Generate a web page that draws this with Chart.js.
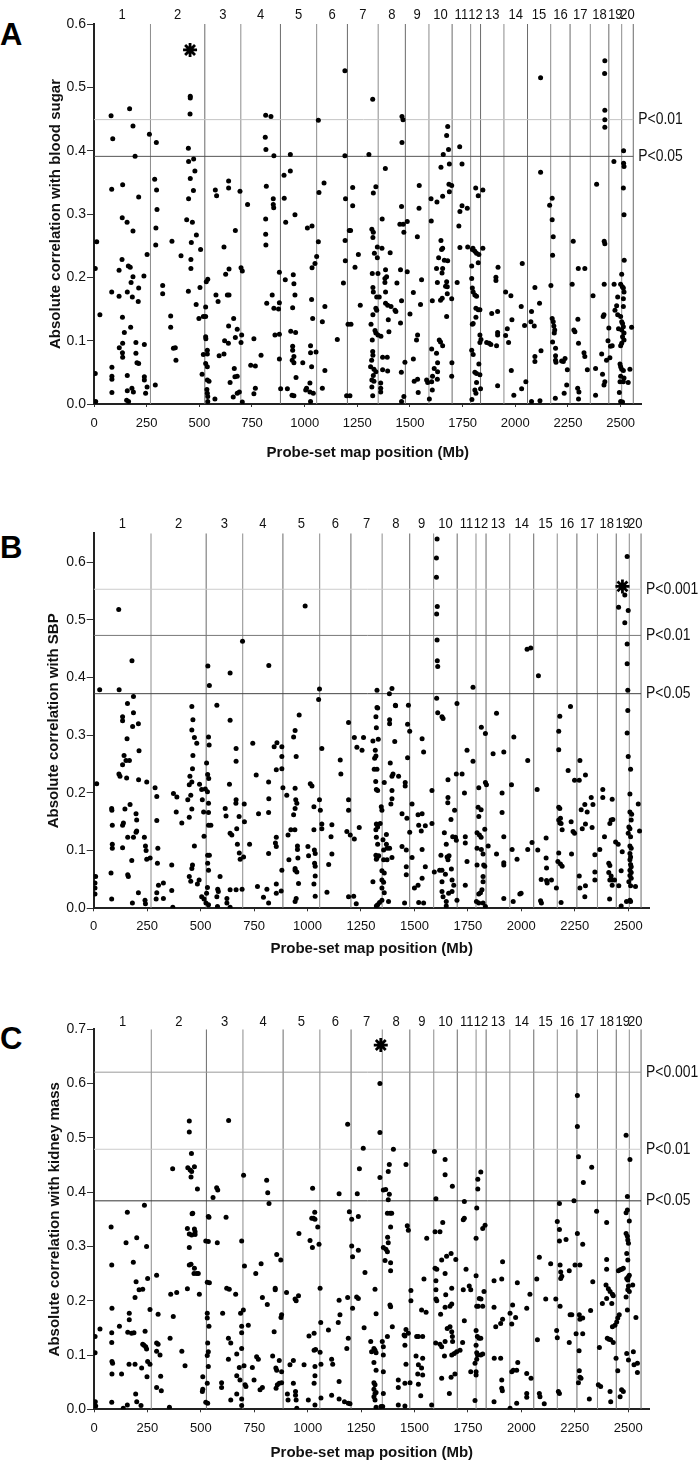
<!DOCTYPE html>
<html>
<head>
<meta charset="utf-8">
<script src="https://cdn.jsdelivr.net/npm/chart.js@4.4.1/dist/chart.umd.min.js"></script>
<style>
  html,body{margin:0;padding:0;background:#fff;}
  body{width:700px;height:1465px;position:relative;overflow:hidden;font-family:'Liberation Sans',Arial,sans-serif;}
  canvas{position:absolute;left:0;}
  .panel{position:absolute;left:0;font-weight:bold;font-size:31px;line-height:31px;color:#000;}
</style>
</head>
<body>
<div class="panel" style="top:19px;">A</div>
<div class="panel" style="top:532px;">B</div>
<div class="panel" style="top:1023px;">C</div>
<canvas id="cA" width="700" height="472" style="top:0px"></canvas>
<canvas id="cB" width="700" height="490" style="top:480px"></canvas>
<canvas id="cC" width="700" height="495" style="top:970px"></canvas>
<script>
// ---------------- data ----------------
const chromNames = ['1','2','3','4','5','6','7','8','9','10','11','12','13','14','15','16','17','18','19','20'];
const chromEndsMb = [268,526,697,885,1057,1203,1349,1478,1590,1700,1788,1835,1946,2058,2168,2260,2356,2444,2505,2560];
const xTickValues = [0,250,500,750,1000,1250,1500,1750,2000,2250,2500];
const yTicksAB = [0,0.1,0.2,0.3,0.4,0.5,0.6];
const yTicksC = [0,0.1,0.2,0.3,0.4,0.5,0.6,0.7];

const thresholdsA = [0.449, 0.391];
const thresholdLabelsA = ['P<0.01','P<0.05'];
const thresholdsB = [0.553, 0.473, 0.372];
const thresholdLabelsB = ['P<0.001','P<0.01','P<0.05'];
const thresholdsC = [0.621, 0.479, 0.384];
const thresholdLabelsC = ['P<0.001','P<0.01','P<0.05'];

const starA = [456, 0.559];
const starB = [2473, 0.558];
const starC = [1342, 0.671];

const pointsA = [
[81,.455],[89,.419],[169,.466],[185,.439],[195,.391],[84,.339],[136,.346],[212,.327],[134,.294],[157,.287],[185,.273],[263,.426],[296,.413],[288,.355],[297,.338],[299,.307],[294,.278],[293,.251],[370,.257],[13,.256],
[457,.486],[457,.483],[456,.458],[448,.404],[449,.383],[473,.387],[479,.368],[457,.356],[472,.337],[449,.324],[440,.291],[467,.287],[486,.267],[462,.255],[506,.244],[576,.338],[582,.329],[639,.352],[639,.341],[693,.336],[671,.274],[617,.248],[729,.315],
[815,.456],[840,.454],[813,.421],[816,.402],[854,.392],[818,.344],[851,.324],[851,.315],[853,.310],[815,.292],[815,.268],[816,.251],[932,.394],[932,.368],[902,.361],[903,.325],[910,.287],[954,.299],[1013,.278],[1035,.281],[1065,.448],[1068,.334],[1092,.349],[1065,.256],[1191,.526],[1191,.392],[1194,.324],[1192,.258],[1212,.274],
[1228,.342],[1228,.313],[1218,.274],[1323,.481],[1305,.394],[1338,.343],[1326,.333],[1319,.276],[1326,.271],[1324,.263],[1368,.292],[1345,.248],[1367,.246],[1383,.372],[1462,.454],[1467,.449],[1462,.413],[1460,.312],[1452,.284],[1468,.284],[1487,.288],[1471,.271],[1544,.345],[1543,.309],[1535,.264],[1600,.324],[1601,.289],[1628,.319],[1655,.328],[1647,.374],[1647,.258],[1655,.246],[1658,.394],[1679,.438],[1674,.424],[1683,.402],[1687,.379],[1685,.347],[1698,.345],[1687,.335],[1736,.406],[1747,.379],[1747,.313],[1737,.304],[1772,.309],[1732,.281],[1737,.247],[1774,.248],[1799,.246],[1812,.341],[1824,.329],[1846,.338],[1846,.246],[2120,.515],[2120,.366],[2163,.314],[2175,.325],[2175,.291],[2180,.264],[2275,.257],[2386,.347],[2425,.542],[2424,.522],[2425,.464],[2425,.449],[2425,.437],[2422,.257],[2425,.253],[2468,.383],[2514,.400],[2514,.380],[2516,.375],[2513,.341],[2516,.299],
[6,.214],[28,.141],[6,.048],[8,.004],[84,.177],[119,.170],[135,.137],[144,.113],[135,.081],[120,.089],[136,.074],[136,.096],[85,.058],[85,.044],[85,.039],[85,.018],[158,.177],[163,.218],[172,.216],[119,.211],[133,.228],[176,.192],[185,.201],[182,.169],[212,.183],[210,.162],[237,.202],[174,.121],[199,.097],[199,.080],[204,.065],[212,.064],[239,.094],[158,.045],[158,.021],[155,.006],[164,.004],[180,.025],[187,.019],[239,.043],[239,.038],[252,.027],[245,.017],[252,.236],[291,.030],[326,.187],[326,.174],[364,.139],[364,.121],[377,.088],[386,.089],[389,.069],[413,.234],[448,.178],[460,.228],[460,.214],[485,.157],[498,.135],[503,.184],[513,.047],[519,.138],[530,.138],[530,.153],[533,.193],[540,.197],[530,.106],[531,.103],[519,.078],[538,.085],[538,.079],[530,.064],[538,.059],[538,.038],[546,.036],[536,.023],[538,.017],[540,.012],[540,.004],[574,.008],[579,.172],[589,.162],[594,.076],[625,.205],[641,.213],[633,.172],[641,.172],[620,.100],[639,.123],[638,.096],[617,.079],[663,.135],[646,.034],[666,.056],[669,.043],[680,.044],[671,.105],[680,.118],[690,.019],[680,.017],[661,.011],[698,.215],[704,.210],[698,.097],[701,.109],[704,.003],[759,.103],[744,.061],[766,.060],[766,.025],[759,.016],[793,.077],[820,.159],[846,.172],[854,.151],[876,.150],[880,.160],[880,.208],[859,.109],[880,.110],[880,.071],[886,.024],[908,.196],[918,.024],[946,.204],[949,.190],[954,.172],[943,.152],[934,.115],[957,.113],[943,.091],[943,.085],[949,.075],[941,.069],[949,.065],[959,.042],[940,.014],[949,.013],[991,.065],[1005,.022],[1009,.025],[1025,.033],[1025,.019],[1028,.004],[1028,.092],[1028,.081],[1033,.059],[1033,.165],[1038,.135],[1035,.215],[1049,.222],[1057,.233],[1054,.082],[1041,.017],[1084,.130],[1096,.154],[1096,.053],[1084,.025],[1155,.102],[1184,.191],[1193,.226],[1199,.013],[1206,.126],
[1239,.216],[1255,.236],[1264,.156],[1220,.126],[1215,.013],[1331,.238],[1345,.231],[1321,.206],[1324,.184],[1326,.177],[1342,.169],[1354,.169],[1338,.151],[1342,.148],[1324,.141],[1315,.126],[1334,.116],[1338,.112],[1348,.109],[1362,.107],[1321,.101],[1323,.083],[1324,.077],[1318,.069],[1313,.059],[1329,.055],[1326,.045],[1319,.038],[1329,.036],[1319,.027],[1323,.013],[1338,.051],[1348,.206],[1384,.212],[1381,.198],[1389,.201],[1381,.192],[1384,.177],[1384,.159],[1394,.156],[1410,.154],[1397,.133],[1400,.114],[1370,.074],[1370,.054],[1392,.074],[1394,.052],[1361,.033],[1361,.025],[1361,.019],[1406,.239],[1429,.148],[1433,.146],[1438,.191],[1455,.212],[1460,.163],[1455,.128],[1459,.050],[1460,.004],[1471,.012],[1476,.066],[1487,.209],[1500,.142],[1516,.176],[1516,.071],[1536,.109],[1531,.101],[1520,.036],[1536,.039],[1539,.018],[1555,.196],[1550,.157],[1579,.038],[1584,.034],[1592,.008],[1603,.087],[1606,.163],[1603,.035],[1606,.022],[1615,.056],[1607,.044],[1626,.214],[1630,.192],[1626,.080],[1631,.065],[1631,.051],[1630,.039],[1636,.231],[1639,.101],[1645,.098],[1650,.244],[1655,.214],[1652,.207],[1653,.167],[1645,.164],[1655,.092],[1663,.227],[1679,.226],[1674,.193],[1677,.185],[1669,.186],[1677,.174],[1674,.138],[1698,.166],[1699,.065],[1698,.044],[1724,.192],[1793,.218],[1793,.198],[1796,.244],[1808,.241],[1816,.238],[1824,.223],[1827,.236],[1796,.183],[1800,.177],[1808,.172],[1816,.170],[1813,.151],[1824,.149],[1832,.149],[1813,.137],[1800,.127],[1796,.126],[1832,.109],[1837,.102],[1832,.097],[1793,.085],[1800,.078],[1827,.063],[1808,.050],[1816,.048],[1832,.046],[1816,.034],[1808,.022],[1813,.017],[1835,.024],[1794,.007],[1888,.143],[1908,.200],[1908,.195],[1918,.216],[1916,.146],[1864,.097],[1876,.096],[1884,.094],[1911,.092],[1916,.113],[1916,.109],[1916,.029],[1954,.177],[1979,.171],[1954,.108],[1962,.119],[1968,.097],[1984,.133],[1981,.053],[1993,.014],[2028,.154],[2033,.222],[2044,.124],[2050,.035],[2030,.024],[2074,.130],[2077,.146],[2093,.184],[2090,.123],[2093,.075],[2093,.067],[2115,.159],[2122,.084],[2077,.004],[2117,.005],[2169,.187],[2177,.235],[2175,.135],[2180,.130],[2183,.123],[2187,.117],[2185,.112],[2177,.098],[2191,.088],[2191,.076],[2191,.069],[2193,.066],[2190,.009],[2220,.068],[2228,.067],[2236,.072],[2247,.054],[2244,.030],[2232,.017],[2270,.189],[2278,.117],[2283,.114],[2297,.134],[2299,.214],[2300,.096],[2296,.025],[2302,.019],[2300,.008],[2330,.214],[2326,.081],[2330,.075],[2342,.054],[2369,.171],[2381,.056],[2381,.014],[2410,.079],[2414,.047],[2421,.030],[2425,.035],[2417,.138],[2421,.141],[2422,.189],[2440,.100],[2444,.120],[2452,.091],[2460,.092],[2449,.073],[2433,.069],[2469,.189],[2473,.148],[2481,.155],[2486,.141],[2486,.169],[2490,.119],[2500,.189],[2505,.205],[2508,.185],[2513,.183],[2516,.177],[2513,.166],[2513,.154],[2500,.138],[2505,.130],[2509,.127],[2513,.122],[2505,.117],[2516,.112],[2509,.106],[2516,.101],[2505,.096],[2500,.092],[2497,.063],[2500,.059],[2505,.055],[2513,.053],[2500,.044],[2516,.041],[2513,.035],[2497,.035],[2494,.018],[2500,.004],[2509,.003],[2536,.034],[2544,.055],[2552,.121],[2517,.227]
];

const pointsB = [
[117,.518],[179,.429],[28,.379],[119,.379],[186,.367],[158,.355],[534,.420],[541,.386],[638,.408],[576,.352],[459,.350],[696,.463],[819,.421],[989,.524],[1056,.380],[1052,.362],
[1606,.640],[1603,.607],[1603,.574],[1607,.523],[1604,.510],[1606,.465],[1607,.429],[1609,.419],[1604,.364],[1699,.355],[1325,.378],[1395,.381],[1383,.372],[1412,.351],[1472,.352],[1328,.347],[1774,.383],[2027,.449],[2044,.451],[2080,.403],[2230,.350],[2495,.610],[2484,.543],[2455,.522],[2500,.516],[2484,.495],[2495,.458],[2495,.424],[2498,.378],[2498,.343],
[9,.055],[6,.044],[6,.035],[6,.025],[14,.216],[135,.332],[135,.325],[156,.294],[182,.315],[186,.339],[209,.320],[212,.273],[142,.265],[135,.249],[151,.256],[167,.256],[118,.233],[123,.229],[154,.226],[210,.223],[248,.219],[84,.173],[85,.170],[146,.172],[170,.180],[87,.144],[135,.144],[139,.148],[159,.123],[186,.123],[198,.164],[201,.153],[201,.134],[198,.132],[87,.111],[87,.104],[135,.105],[178,.083],[237,.123],[242,.108],[245,.100],[248,.085],[264,.087],[81,.061],[159,.058],[162,.055],[84,.016],[181,.009],[209,.027],[240,.014],[242,.008],[287,.209],[295,.194],[295,.152],[300,.104],[298,.078],[303,.040],[295,.027],[292,.016],[326,.044],[326,.017],[365,.075],[365,.031],[370,.002],[373,.199],[389,.193],[386,.167],[412,.148],[440,.188],[450,.229],[447,.214],[447,.158],[454,.196],[459,.172],[464,.327],[459,.309],[471,.296],[482,.286],[464,.265],[462,.242],[459,.219],[471,.108],[447,.055],[454,.047],[462,.075],[459,.069],[493,.049],[485,.042],[495,.215],[505,.206],[508,.188],[514,.167],[516,.125],[522,.207],[528,.252],[533,.232],[532,.202],[537,.182],[537,.166],[538,.225],[537,.144],[548,.144],[533,.092],[541,.092],[533,.078],[537,.066],[528,.026],[532,.036],[516,.016],[525,.009],[537,.006],[505,.020],[537,.297],[540,.283],[591,.055],[580,.033],[583,.029],[576,.020],[579,.003],[615,.173],[619,.160],[623,.017],[623,.009],[638,.002],[635,.215],[638,.130],[646,.127],[638,.032],[666,.032],[638,.326],[666,.277],[666,.255],[666,.188],[665,.182],[669,.138],[672,.111],[681,.096],[685,.085],[701,.089],[694,.033],[680,.159],[704,.181],[705,.150],[729,.111],[744,.286],[760,.231],[771,.164],[766,.038],[794,.019],[810,.033],[818,.095],[818,.219],[819,.190],[818,.166],[818,.009],[854,.026],[854,.042],[844,.280],[857,.287],[854,.240],[850,.113],[854,.107],[854,.123],[880,.280],[880,.263],[880,.242],[885,.209],[880,.066],[877,.030],[903,.196],[909,.127],[913,.084],[922,.136],[935,.162],[935,.297],[942,.308],[947,.263],[942,.208],[945,.188],[942,.173],[950,.182],[941,.136],[953,.108],[953,.102],[955,.087],[942,.069],[942,.066],[950,.063],[958,.043],[947,.017],[942,.012],[961,.335],[1002,.107],[1005,.091],[1013,.216],[1021,.212],[1030,.176],[1030,.136],[1032,.101],[1036,.095],[1033,.078],[1036,.073],[1036,.056],[1030,.042],[1036,.021],[1056,.188],[1060,.170],[1067,.277],[1067,.146],[1067,.138],[1099,.076],[1110,.124],[1114,.145],[1114,.094],[1091,.028],[1192,.322],[1153,.257],[1156,.233],[1184,.133],[1192,.020],[1192,.188],[1192,.170],
[1219,.296],[1262,.296],[1231,.279],[1255,.274],[1242,.140],[1200,.127],[1219,.120],[1216,.021],[1228,.008],[1306,.290],[1325,.348],[1320,.332],[1322,.313],[1331,.293],[1317,.274],[1320,.264],[1314,.260],[1312,.241],[1325,.241],[1319,.220],[1322,.206],[1328,.204],[1345,.176],[1348,.170],[1359,.218],[1306,.046],[1322,.146],[1328,.141],[1320,.136],[1340,.147],[1322,.123],[1328,.111],[1353,.119],[1369,.128],[1320,.092],[1325,.087],[1333,.091],[1356,.101],[1369,.111],[1356,.084],[1322,.085],[1348,.065],[1359,.061],[1348,.049],[1356,.045],[1348,.035],[1359,.027],[1348,.014],[1337,.010],[1328,.006],[1322,.004],[1379,.012],[1372,.104],[1372,.084],[1384,.327],[1384,.320],[1408,.289],[1411,.352],[1395,.229],[1400,.233],[1387,.252],[1390,.181],[1395,.190],[1395,.204],[1384,.104],[1395,.088],[1426,.229],[1442,.164],[1457,.218],[1457,.212],[1465,.156],[1442,.107],[1462,.101],[1462,.072],[1462,.058],[1454,.009],[1468,.319],[1478,.307],[1468,.261],[1478,.132],[1489,.088],[1489,.181],[1500,.035],[1517,.040],[1517,.162],[1520,.144],[1536,.164],[1532,.134],[1543,.271],[1536,.294],[1551,.143],[1536,.102],[1551,.072],[1536,.052],[1520,.010],[1543,.009],[1582,.204],[1582,.147],[1593,.063],[1609,.339],[1629,.332],[1634,.329],[1618,.066],[1629,.066],[1624,.092],[1629,.046],[1629,.029],[1634,.020],[1640,.131],[1645,.059],[1649,.111],[1653,.089],[1657,.223],[1657,.192],[1656,.183],[1660,.026],[1649,.012],[1649,.004],[1662,.091],[1657,.084],[1671,.154],[1673,.068],[1676,.049],[1676,.029],[1679,.124],[1684,.040],[1688,.170],[1692,.123],[1696,.233],[1696,.118],[1699,.014],[1723,.233],[1734,.200],[1738,.124],[1738,.113],[1746,.274],[1746,.081],[1738,.040],[1774,.255],[1793,.104],[1793,.075],[1801,.209],[1798,.175],[1801,.159],[1793,.131],[1804,.127],[1812,.171],[1813,.314],[1812,.123],[1813,.102],[1821,.094],[1824,.075],[1829,.073],[1821,.055],[1821,.046],[1816,.032],[1809,.027],[1801,.025],[1790,.012],[1801,.009],[1821,.009],[1832,.003],[1832,.303],[1832,.218],[1837,.214],[1829,.137],[1845,.108],[1884,.094],[1868,.268],[1884,.338],[1910,.200],[1910,.166],[1918,.271],[1918,.124],[1918,.079],[1918,.075],[1918,.017],[1954,.214],[1957,.102],[1965,.297],[1962,.012],[1980,.085],[1993,.025],[1999,.026],[2030,.256],[2030,.102],[2050,.114],[2074,.206],[2077,.101],[2093,.050],[2090,.013],[2094,.009],[2116,.122],[2116,.087],[2118,.070],[2118,.048],[2121,.044],[2141,.049],[2164,.035],[2171,.081],[2175,.096],[2175,.275],[2175,.307],[2180,.333],[2175,.175],[2180,.173],[2183,.156],[2175,.153],[2180,.148],[2186,.147],[2191,.136],[2183,.077],[2191,.073],[2186,.010],[2219,.239],[2233,.150],[2235,.094],[2242,.133],[2249,.130],[2249,.222],[2271,.222],[2274,.256],[2271,.056],[2274,.035],[2280,.171],[2285,.138],[2297,.180],[2300,.231],[2300,.146],[2300,.039],[2297,.020],[2308,.167],[2327,.192],[2335,.180],[2331,.140],[2344,.093],[2344,.063],[2344,.049],[2367,.102],[2381,.206],[2381,.192],[2389,.124],[2409,.078],[2414,.074],[2409,.062],[2414,.049],[2420,.056],[2425,.049],[2414,.147],[2420,.153],[2428,.154],[2425,.189],[2413,.016],[2425,.040],[2441,.115],[2436,.049],[2453,.111],[2456,.039],[2472,.098],[2467,.065],[2467,.004],[2495,.304],[2500,.263],[2511,.241],[2508,.198],[2508,.167],[2516,.163],[2514,.153],[2503,.141],[2508,.138],[2500,.130],[2511,.124],[2508,.108],[2514,.104],[2508,.095],[2511,.089],[2508,.084],[2511,.076],[2514,.072],[2508,.066],[2514,.062],[2508,.057],[2514,.052],[2503,.046],[2511,.039],[2508,.014],[2511,.012],[2492,.012],[2534,.038],[2547,.181],[2553,.134]
];

const pointsC = [
[446,.531],[446,.511],[456,.471],[439,.445],[450,.441],[457,.438],[470,.447],[454,.428],[484,.406],[368,.443],[459,.360],[630,.532],[557,.390],[574,.408],[579,.404],[535,.355],[618,.354],[700,.431],[808,.422],[813,.399],[819,.379],[1023,.407],[1033,.363],[1019,.352],[1187,.525],[1147,.397],[1195,.364],[156,.363],[236,.376],
[1338,.600],[1338,.510],[1338,.427],[1260,.481],[1242,.443],[1232,.397],[1401,.479],[1382,.451],[1377,.438],[1354,.404],[1365,.405],[1382,.396],[1377,.386],[1373,.361],[1393,.361],[1460,.451],[1593,.475],[1643,.460],[1643,.432],[1677,.411],[1600,.388],[1733,.383],[1733,.352],[1796,.424],[1796,.406],[1810,.437],[1791,.371],[2178,.379],[2246,.384],[2262,.578],[2262,.521],[2267,.465],[2329,.446],[2290,.418],[2352,.365],[2490,.505],[2508,.460],[2496,.392],[2496,.367],[2490,.362],[1237,.355],
[80,.336],[83,.266],[150,.307],[200,.316],[184,.271],[197,.235],[211,.220],[228,.221],[246,.300],[251,.241],[293,.247],[262,.184],[84,.186],[119,.153],[28,.148],[5,.134],[5,.104],[83,.141],[83,.123],[84,.088],[87,.085],[84,.065],[129,.065],[83,.013],[165,.177],[165,.165],[158,.142],[176,.140],[187,.141],[164,.083],[192,.083],[192,.206],[195,.028],[200,.014],[220,.007],[223,.076],[228,.120],[234,.118],[239,.144],[242,.115],[246,.111],[248,.060],[251,.088],[262,.083],[156,.008],[137,.002],[6,.014],[8,.006],[293,.122],[300,.120],[293,.107],[309,.100],[300,.175],[312,.061],[293,.040],[315,.034],[359,.212],[356,.131],[353,.004],[371,.171],[387,.215],[411,.107],[426,.080],[437,.333],[437,.222],[446,.266],[454,.267],[446,.298],[446,.323],[457,.321],[462,.361],[470,.332],[473,.327],[473,.322],[470,.260],[468,.250],[481,.250],[488,.250],[493,.212],[509,.060],[509,.037],[507,.033],[523,.013],[532,.011],[523,.310],[535,.309],[538,.354],[530,.234],[540,.233],[530,.177],[530,.168],[538,.153],[532,.122],[535,.106],[530,.099],[535,.079],[530,.048],[577,.307],[602,.177],[597,.049],[597,.040],[621,.223],[633,.221],[629,.131],[640,.122],[629,.092],[640,.017],[663,.212],[668,.102],[668,.062],[668,.028],[680,.077],[683,.054],[686,.177],[691,.310],[691,.141],[691,.153],[691,.112],[691,.019],[691,.007],[699,.183],[704,.264],[702,.080],[707,.045],[711,.042],[722,.155],[741,.077],[749,.054],[757,.250],[761,.097],[769,.092],[777,.036],[782,.268],[788,.040],[788,.206],[811,.193],[836,.098],[848,.223],[848,.220],[843,.143],[851,.076],[855,.072],[855,.285],[874,.275],[875,.169],[878,.174],[858,.045],[867,.048],[878,.049],[867,.090],[878,.069],[852,.039],[901,.215],[908,.017],[917,.082],[933,.090],[933,.048],[943,.033],[943,.026],[946,.017],[949,.002],[905,.028],[941,.203],[946,.200],[957,.209],[959,.324],[983,.082],[1003,.017],[1006,.135],[1011,.311],[1022,.298],[1027,.352],[1034,.350],[1030,.140],[1030,.109],[1037,.110],[1034,.079],[1034,.008],[1030,.048],[1034,.062],[1047,.336],[1053,.304],[1058,.223],[1061,.160],[1058,.105],[1062,.083],[1062,.021],[1097,.146],[1112,.092],[1112,.026],[1117,.083],[1147,.201],[1151,.174],[1143,.160],[1147,.051],[1147,.019],[1172,.014],[1183,.112],[1187,.206],[1190,.131],[1190,.011],
[1206,.350],[1206,.301],[1210,.281],[1237,.293],[1229,.207],[1237,.204],[1210,.186],[1268,.252],[1264,.150],[1198,.010],[1315,.221],[1320,.176],[1295,.125],[1299,.106],[1310,.112],[1315,.109],[1320,.104],[1310,.086],[1320,.072],[1310,.049],[1315,.045],[1310,.037],[1315,.029],[1310,.023],[1315,.017],[1320,.031],[1320,.004],[1343,.005],[1351,.005],[1349,.125],[1354,.115],[1354,.100],[1354,.069],[1354,.029],[1354,.298],[1366,.295],[1373,.290],[1374,.317],[1377,.307],[1386,.361],[1388,.336],[1362,.274],[1388,.270],[1388,.255],[1385,.192],[1388,.189],[1396,.152],[1373,.134],[1424,.054],[1424,.040],[1424,.008],[1451,.137],[1455,.135],[1460,.147],[1455,.118],[1460,.083],[1455,.048],[1455,.006],[1466,.338],[1471,.330],[1471,.140],[1483,.219],[1483,.200],[1479,.049],[1510,.134],[1518,.134],[1507,.098],[1518,.082],[1515,.065],[1518,.046],[1529,.025],[1533,.183],[1538,.134],[1538,.094],[1533,.076],[1538,.063],[1544,.240],[1554,.179],[1557,.315],[1580,.008],[1596,.327],[1596,.260],[1604,.258],[1600,.237],[1600,.220],[1600,.203],[1604,.200],[1599,.122],[1619,.327],[1632,.344],[1627,.275],[1622,.175],[1619,.120],[1627,.115],[1627,.057],[1643,.250],[1646,.211],[1643,.188],[1643,.125],[1640,.098],[1650,.282],[1653,.149],[1663,.029],[1666,.190],[1671,.287],[1674,.223],[1674,.194],[1666,.152],[1674,.143],[1677,.134],[1678,.125],[1674,.100],[1671,.059],[1686,.103],[1693,.276],[1689,.065],[1697,.106],[1713,.109],[1725,.123],[1728,.220],[1728,.349],[1733,.163],[1741,.258],[1756,.227],[1763,.220],[1763,.069],[1788,.315],[1788,.246],[1788,.145],[1794,.134],[1802,.131],[1810,.131],[1788,.118],[1791,.104],[1795,.100],[1783,.085],[1791,.092],[1788,.069],[1788,.063],[1783,.016],[1791,.190],[1798,.190],[1803,.204],[1811,.203],[1819,.190],[1810,.100],[1819,.102],[1819,.333],[1830,.339],[1825,.217],[1872,.188],[1872,.237],[1872,.014],[1873,.094],[1880,.152],[1903,.094],[1903,.158],[1908,.240],[1912,.272],[1912,.166],[1908,.054],[1908,.039],[1911,.034],[1947,.177],[1955,.157],[1959,.192],[1973,.169],[1981,.233],[1955,.069],[1962,.072],[1983,.086],[1978,.072],[1947,.002],[1978,.011],[2025,.186],[2025,.066],[2040,.212],[2045,.057],[2025,.029],[2025,.022],[2072,.240],[2075,.128],[2084,.280],[2084,.029],[2087,.023],[2107,.010],[2114,.203],[2137,.268],[2161,.203],[2165,.145],[2168,.132],[2168,.346],[2178,.331],[2178,.310],[2181,.266],[2184,.253],[2184,.241],[2189,.245],[2173,.033],[2178,.029],[2181,.190],[2209,.313],[2224,.255],[2224,.123],[2228,.174],[2236,.174],[2251,.266],[2256,.139],[2262,.324],[2274,.266],[2271,.174],[2274,.166],[2270,.108],[2271,.071],[2274,.059],[2279,.057],[2267,.049],[2287,.304],[2287,.139],[2287,.168],[2318,.019],[2324,.182],[2334,.235],[2360,.045],[2371,.042],[2365,.114],[2379,.195],[2399,.344],[2399,.276],[2399,.258],[2396,.229],[2399,.204],[2407,.222],[2415,.217],[2426,.212],[2430,.209],[2402,.131],[2410,.129],[2418,.128],[2430,.123],[2415,.033],[2418,.014],[2423,.195],[2426,.152],[2438,.155],[2446,.161],[2451,.168],[2458,.174],[2454,.255],[2462,.257],[2469,.258],[2477,.260],[2443,.094],[2451,.071],[2462,.023],[2469,.036],[2477,.033],[2490,.324],[2496,.319],[2498,.312],[2501,.306],[2493,.287],[2498,.275],[2501,.244],[2493,.241],[2498,.238],[2505,.247],[2490,.207],[2498,.220],[2501,.227],[2505,.217],[2496,.183],[2493,.103],[2501,.091],[2505,.347],[2521,.229],[2524,.106],[2527,.082],[2536,.169],[2543,.085],[2543,.068]
];

// ---------------- drawing ----------------
const FONT = "'Liberation Sans', Arial, sans-serif";
const LINE_END_MB = chromEndsMb[chromEndsMb.length - 1];

function narrowText(ctx, text, x, y, sx) {
  ctx.save();
  ctx.translate(x, y);
  ctx.scale(sx, 1);
  ctx.fillText(text, 0, 0);
  ctx.restore();
}

const labelPlugin = {
  id: 'chromLabels',
  afterDraw(chart, args, o) {
    const ctx = chart.ctx, xs = chart.scales.x, ys = chart.scales.y, area = chart.chartArea;
    ctx.save();
    ctx.fillStyle = '#111';
    ctx.textBaseline = 'middle';
    ctx.textAlign = 'center';
    ctx.font = `${o.chrFont}px ${FONT}`;
    const starts = [0].concat(chromEndsMb);
    chromNames.forEach((n, i) => {
      const mid = (starts[i] + starts[i + 1]) / 2;
      narrowText(ctx, n, xs.getPixelForValue(mid), area.top - o.chrGap, 0.84);
    });
    ctx.textAlign = 'left';
    ctx.font = `${o.pFont}px ${FONT}`;
    o.thresholds.forEach((t, i) => {
      narrowText(ctx, o.labels[i], xs.getPixelForValue(LINE_END_MB) + o.pGap, ys.getPixelForValue(t), 0.87);
    });
    ctx.restore();
  }
};

function makePanel(id, p) {
  const datasets = [];
  datasets.push({label: 'peak', data: [{x: p.star[0], y: p.star[1]}], pointStyle: 'star', pointRadius: 7,
    borderColor: '#000', backgroundColor: '#000', borderWidth: 2.8, order: 0});
  datasets.push({label: 'probes', data: p.points.map(([x, y]) => ({x, y})), pointRadius: 2.5,
    pointBackgroundColor: '#000', pointBorderColor: '#000', pointBorderWidth: 0, order: 1});
  p.thresholds.forEach((t, i) => datasets.push({label: p.labels[i], data: [{x: 0, y: t}, {x: LINE_END_MB, y: t}],
    showLine: true, pointRadius: 0, borderColor: p.thrColors[i], borderWidth: 1, order: 2}));
  chromEndsMb.forEach((b, i) => datasets.push({label: 'chr' + chromNames[i], data: [{x: b, y: 0}, {x: b, y: p.yMax}],
    showLine: true, pointRadius: 0, borderColor: i % 2 ? '#6a6a6a' : '#8c8c8c', borderWidth: 1, order: 3}));

  new Chart(document.getElementById(id), {
    type: 'scatter',
    data: {datasets},
    plugins: [labelPlugin],
    options: {
      responsive: false, animation: false, devicePixelRatio: 1,
      layout: {padding: {top: p.padTop, right: p.padRight, left: 0, bottom: 0}},
      plugins: {
        legend: {display: false}, tooltip: {enabled: false},
        chromLabels: {chrFont: 15.5, chrGap: p.chrGap, pFont: 16, pGap: 5, thresholds: p.thresholds, labels: p.labels}
      },
      scales: {
        x: {
          type: 'linear', min: 0, max: 2600,
          afterFit: s => { s.height = p.xH; },
          afterBuildTicks: s => { s.ticks = xTickValues.map(v => ({value: v})); },
          ticks: {autoSkip: false, maxRotation: 0, padding: p.xTickPad, color: '#111',
            font: {family: FONT, size: 13}, callback: v => String(v)},
          grid: {drawOnChartArea: false, drawTicks: true, tickLength: 3, color: '#333', lineWidth: 1},
          border: {display: true, color: '#222', width: 2},
          title: {display: true, text: 'Probe-set map position (Mb)', color: '#111',
            font: {family: FONT, size: 15, weight: 'bold'}, padding: {top: 0, bottom: p.xTitlePad}}
        },
        y: {
          type: 'linear', min: 0, max: p.yMax,
          afterFit: s => { s.width = p.yW; },
          afterBuildTicks: s => { s.ticks = p.yTicks.map(v => ({value: v})); },
          ticks: {autoSkip: false, padding: 1, color: '#111', font: {family: FONT, size: 14},
            callback: v => Number(v).toFixed(1)},
          grid: {drawOnChartArea: false, drawTicks: true, tickLength: 7, color: '#333', lineWidth: 1},
          border: {display: true, color: '#222', width: 2},
          title: {display: true, text: p.yTitle, color: '#111',
            font: {family: FONT, size: 15, weight: 'bold'}, padding: {top: p.yTitlePad, bottom: 0}}
        }
      }
    }
  });
}

makePanel('cA', {points: pointsA, star: starA, thresholds: thresholdsA, labels: thresholdLabelsA,
  thrColors: ['#c4c4c4', '#555555'], yMax: 0.6, yTicks: yTicksAB, yTitle: 'Absolute correlation with blood sugar',
  padTop: 24, padRight: 58.3, yW: 94, xH: 68, xTickPad: 9, xTitlePad: 10, chrGap: 9.5, yTitlePad: 47});
makePanel('cB', {points: pointsB, star: starB, thresholds: thresholdsB, labels: thresholdLabelsB,
  thrColors: ['#cccccc', '#777777', '#444444'], yMax: 0.65, yTicks: yTicksAB, yTitle: 'Absolute correlation with SBP',
  padTop: 53.3, padRight: 50.4, yW: 93.7, xH: 61.7, xTickPad: 7.5, xTitlePad: 12, chrGap: 10, yTitlePad: 44.5});
makePanel('cC', {points: pointsC, star: starC, thresholds: thresholdsC, labels: thresholdLabelsC,
  thrColors: ['#9a9a9a', '#cccccc', '#333333'], yMax: 0.7, yTicks: yTicksC, yTitle: 'Absolute correlation with kidney mass',
  padTop: 59.3, padRight: 50.4, yW: 94, xH: 55.7, xTickPad: 8, xTitlePad: 2.7, chrGap: 7.6, yTitlePad: 45.5});
</script>
</body>
</html>
